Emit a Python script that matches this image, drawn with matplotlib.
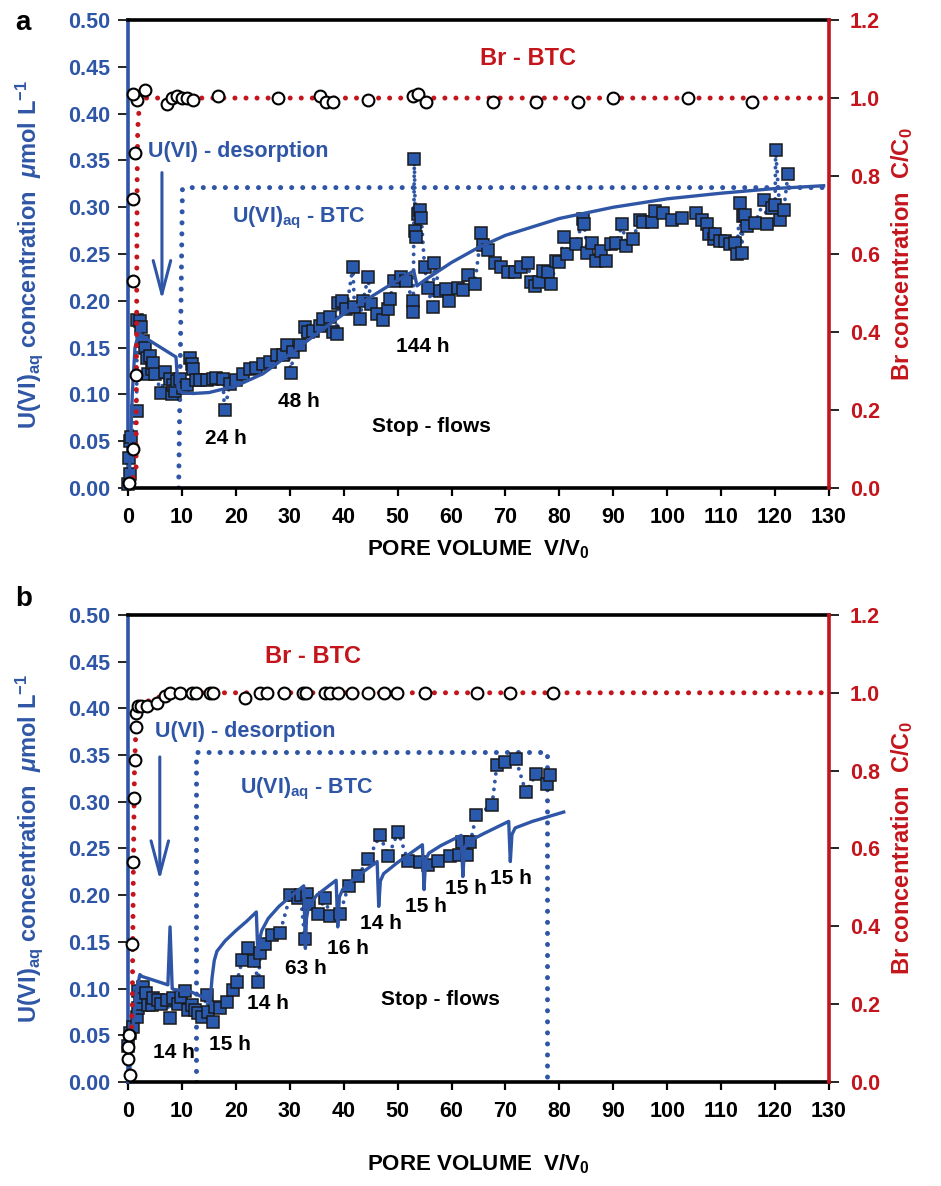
"""Recreate the U(VI) desorption / Br breakthrough figure (panels a and b)."""

import numpy as np
import matplotlib

matplotlib.use("Agg")
import matplotlib.pyplot as plt
from matplotlib.ticker import FormatStrFormatter

BLUE = "#2f56a6"
SQ_FACE = "#2a5aae"
RED = "#c4151c"

# ---------------------------------------------------------------- panel a data
a_u_x = [0.05, 0.1, 0.3, 0.4, 0.5, 1.6, 1.7, 2.2, 2.5, 2.8, 3.1, 3.5, 3.8, 4.1, 4.4,
         4.7, 5.0, 6.2, 6.8, 7.8, 8.1, 8.4, 8.7, 9.0, 9.6, 10.2, 10.9, 11.5, 11.8,
         12.1, 12.7, 13.3, 14.6, 15.8, 16.4, 17.6, 17.9, 18.9, 20.1, 21.4, 22.6,
         23.8, 25.1, 26.3, 27.6, 28.8, 29.4, 30.3, 30.6, 31.9, 32.8, 33.4, 34.3,
         35.6, 36.2, 37.4, 38.0, 38.7, 38.9, 39.6, 40.5, 41.7, 42.0, 43.0, 43.6,
         44.5, 45.1, 46.1, 47.3, 48.3, 48.6, 49.3, 50.7, 51.6, 52.8, 52.9, 53.1,
         53.3, 53.5, 53.8, 54.1, 54.4, 55.0, 55.6, 56.5, 56.8, 57.8, 59.0, 59.6,
         61.2, 62.1, 63.0, 64.3, 65.5, 65.8, 66.7, 68.0, 69.2, 70.4, 71.7, 72.9,
         74.2, 74.7, 75.4, 76.3, 76.9, 77.8, 78.5, 79.4, 80.0, 80.9, 81.5, 83.1,
         84.4, 84.6, 85.2, 86.1, 86.8, 87.7, 88.6, 89.6, 90.5, 91.7, 92.3, 93.6,
         94.9, 95.5, 97.1, 97.7, 99.2, 100.8, 102.7, 105.4, 106.4, 107.3, 107.7,
         108.6, 108.9, 109.8, 110.8, 111.7, 112.6, 112.9, 113.5, 113.8, 114.1,
         114.4, 114.8, 116.3, 118.0, 118.5, 119.4, 120.0, 120.1, 121.0, 121.6,
         122.4]
a_u_y = [0.004, 0.032, 0.015, 0.050, 0.054, 0.082, 0.179, 0.178, 0.172, 0.157,
         0.150, 0.139, 0.122, 0.141, 0.127, 0.134, 0.122, 0.102, 0.124, 0.116,
         0.100, 0.110, 0.104, 0.114, 0.116, 0.107, 0.110, 0.139, 0.133, 0.127,
         0.115, 0.115, 0.115, 0.117, 0.118, 0.117, 0.083, 0.111, 0.115, 0.122,
         0.127, 0.128, 0.132, 0.135, 0.142, 0.142, 0.153, 0.123, 0.145, 0.153,
         0.172, 0.167, 0.168, 0.173, 0.181, 0.183, 0.167, 0.165, 0.198, 0.200,
         0.191, 0.236, 0.193, 0.181, 0.200, 0.225, 0.197, 0.186, 0.179, 0.191,
         0.202, 0.221, 0.226, 0.221, 0.200, 0.188, 0.352, 0.275, 0.268, 0.293,
         0.297, 0.288, 0.236, 0.214, 0.193, 0.240, 0.211, 0.213, 0.200, 0.214,
         0.212, 0.228, 0.218, 0.272, 0.260, 0.254, 0.240, 0.236, 0.231, 0.231,
         0.236, 0.240, 0.220, 0.216, 0.220, 0.232, 0.231, 0.218, 0.243, 0.241,
         0.268, 0.250, 0.261, 0.287, 0.282, 0.251, 0.262, 0.243, 0.253, 0.243,
         0.261, 0.262, 0.282, 0.259, 0.266, 0.286, 0.284, 0.284, 0.296, 0.294,
         0.286, 0.288, 0.294, 0.286, 0.282, 0.271, 0.266, 0.271, 0.264, 0.264,
         0.261, 0.262, 0.250, 0.304, 0.251, 0.291, 0.292, 0.280, 0.283, 0.308,
         0.282, 0.299, 0.302, 0.361, 0.286, 0.297, 0.336]

a_model_x = [0.0, 0.3, 0.8, 1.3, 2.0, 2.5, 8.9, 9.3, 10.0, 12.0, 15.0, 20.0, 25.0,
             30.0, 35.0, 40.0, 45.0, 50.0, 53.0, 53.6, 55.0, 60.0, 65.0, 70.0,
             80.0, 90.0, 100.0, 110.0, 120.0, 129.0]
a_model_y = [0.0, 0.02, 0.10, 0.15, 0.166, 0.163, 0.140, 0.106, 0.102, 0.101,
             0.102, 0.109, 0.122, 0.143, 0.165, 0.186, 0.204, 0.222, 0.232, 0.216,
             0.222, 0.241, 0.257, 0.270, 0.288, 0.300, 0.309, 0.315, 0.320, 0.323]

a_box_x = [9.4, 10.1, 11.1, 130.0]
a_box_y = [0.0, 0.320, 0.321, 0.321]

a_br_x = [0.1, 0.9, 1.4, 1.0, 0.9, 1.3, 1.6, 3.1, 0.9, 7.2, 8.1, 9.0, 10.0, 10.9,
          12.1, 16.7, 27.8, 35.6, 36.8, 38.0, 44.5, 52.8, 53.8, 55.3, 67.7, 75.6,
          83.5, 89.9, 103.9, 115.7]
a_br_y = [0.012, 0.10, 0.29, 0.53, 0.74, 0.86, 0.995, 1.02, 1.01, 0.985, 1.0,
          1.005, 1.0, 1.0, 0.995, 1.005, 1.0, 1.005, 0.99, 0.99, 0.995, 1.005,
          1.01, 0.99, 0.99, 0.99, 0.99, 1.0, 1.0, 0.99]

a_br_model_x = [0.3, 1.5, 1.7, 1.8, 2.2, 130.0]
a_br_model_y = [0.0, 0.05, 0.79, 0.92, 1.0, 1.0]

a_stop_labels = ["24 h", "48 h", "144 h"]

# ---------------------------------------------------------------- panel b data
b_u_x = [0.0, 0.4, 1.0, 1.6, 1.9, 1.9, 2.2, 2.5, 2.8, 3.4, 3.8, 4.4, 4.7, 5.6,
         6.2, 7.2, 7.8, 8.4, 9.3, 9.9, 10.6, 11.2, 11.8, 12.4, 13.0, 13.7, 14.6,
         14.9, 15.8, 16.1, 17.1, 18.3, 19.5, 20.2, 21.2, 22.3, 23.3, 24.2, 24.5,
         25.4, 26.7, 28.2, 30.1, 31.6, 32.0, 32.8, 33.2, 33.5, 35.3, 36.5, 37.5,
         39.3, 40.9, 42.7, 44.6, 46.7, 48.3, 50.1, 51.9, 54.2, 55.7, 57.5, 59.7,
         61.3, 61.9, 62.8, 63.5, 64.6, 67.5, 68.4, 70.0, 71.9, 73.8, 75.7, 77.7,
         78.2]
b_u_y = [0.038, 0.052, 0.059, 0.070, 0.079, 0.097, 0.084, 0.091, 0.102, 0.095,
         0.082, 0.082, 0.090, 0.088, 0.084, 0.088, 0.068, 0.090, 0.084, 0.091,
         0.097, 0.077, 0.082, 0.077, 0.074, 0.070, 0.093, 0.075, 0.064, 0.080,
         0.079, 0.086, 0.098, 0.107, 0.131, 0.143, 0.130, 0.107, 0.138, 0.148,
         0.157, 0.160, 0.200, 0.197, 0.200, 0.153, 0.201, 0.191, 0.180, 0.197,
         0.178, 0.180, 0.210, 0.221, 0.239, 0.264, 0.242, 0.268, 0.237, 0.236,
         0.232, 0.237, 0.242, 0.243, 0.257, 0.243, 0.257, 0.286, 0.296, 0.339,
         0.343, 0.346, 0.310, 0.330, 0.319, 0.329]

b_model_x = [0.0, 0.3, 0.8, 1.5, 2.2, 2.6, 7.4, 7.8, 8.2, 8.5, 11.5, 14.6, 15.2,
             15.6, 16.0, 16.5, 18.0, 20.0, 22.0, 23.8, 24.1, 24.3, 24.8, 26.0,
             28.0, 30.0, 32.6, 32.9, 33.1, 33.5, 35.0, 38.6, 38.9, 39.2, 39.8,
             42.0, 46.2, 46.5, 46.8, 47.4, 50.0, 54.6, 54.9, 55.2, 55.8, 58.0,
             61.8, 62.1, 62.4, 63.0, 66.0, 70.6, 70.9, 71.2, 71.8, 75.0, 80.8]
b_model_y = [0.0, 0.01, 0.05, 0.095, 0.115, 0.113, 0.104, 0.166, 0.100, 0.099,
             0.097, 0.089, 0.084, 0.112, 0.130, 0.140, 0.151, 0.162, 0.172,
             0.182, 0.134, 0.150, 0.162, 0.175, 0.188, 0.198, 0.210, 0.143,
             0.175, 0.188, 0.200, 0.216, 0.166, 0.198, 0.206, 0.218, 0.236,
             0.188, 0.215, 0.223, 0.235, 0.254, 0.206, 0.238, 0.245, 0.253,
             0.264, 0.220, 0.250, 0.257, 0.266, 0.279, 0.236, 0.265, 0.272,
             0.279, 0.289]

b_box_x = [12.7, 12.7, 77.7, 77.7]
b_box_y = [0.0, 0.353, 0.353, 0.0]

b_br_x = [0.3, 0.0, 0.0, 0.25, 0.7, 0.9, 1.2, 1.3, 1.5, 1.5, 1.9, 2.4, 3.5, 5.3,
          6.9, 7.8, 9.6, 11.8, 12.7, 15.2, 15.8, 21.7, 24.5, 25.7, 29.0, 32.5,
          33.1, 36.5, 37.5, 39.0, 41.5, 44.6, 47.4, 49.8, 55.1, 64.8, 70.9, 78.8]
b_br_y = [0.019, 0.06, 0.091, 0.12, 0.355, 0.564, 0.73, 0.828, 0.912, 0.948,
          0.965, 0.965, 0.965, 0.974, 0.991, 1.0, 1.0, 1.0, 1.0, 1.0, 1.0, 0.986,
          1.0, 1.0, 1.0, 1.0, 1.0, 1.0, 1.0, 1.0, 1.0, 1.0, 1.0, 1.0, 1.0, 1.0,
          1.0, 1.0]

b_br_model_x = [0.0, 0.4, 0.8, 1.0, 1.2, 1.5, 2.0, 3.0, 5.0, 8.0, 130.0]
b_br_model_y = [0.0, 0.03, 0.2, 0.55, 0.8, 0.92, 0.96, 0.975, 0.985, 1.0, 1.0]

b_stop_labels = ["14 h", "15 h", "14 h", "63 h", "16 h", "14 h", "15 h", "15 h", "15 h"]

XTICKS = np.arange(0, 131, 10)
YTICKS_L = np.arange(0, 0.501, 0.05)
YTICKS_R = np.arange(0, 1.21, 0.2)


def setup_fonts():
    plt.rcParams["font.family"] = ["Liberation Sans", "DejaVu Sans"]
    plt.rcParams["font.weight"] = "bold"
    plt.rcParams["axes.labelweight"] = "bold"
    plt.rcParams["mathtext.fontset"] = "custom"
    plt.rcParams["mathtext.rm"] = "Liberation Sans:bold"
    plt.rcParams["mathtext.bf"] = "Liberation Sans:bold"
    plt.rcParams["mathtext.it"] = "Liberation Sans:italic:bold"
    plt.rcParams["mathtext.sf"] = "Liberation Sans:bold"


def style_axes(ax, ax2):
    """Spines, ticks and limits shared by both panels."""
    ax.set_xlim(0, 130)
    ax.set_ylim(0, 0.5)
    ax2.set_ylim(0, 1.2)
    ax.set_xticks(XTICKS)
    ax.set_yticks(YTICKS_L)
    ax2.set_yticks(YTICKS_R)
    ax.yaxis.set_major_formatter(FormatStrFormatter("%.2f"))
    ax2.yaxis.set_major_formatter(FormatStrFormatter("%.1f"))

    for name, sp in ax.spines.items():
        sp.set_linewidth(2.6)
        sp.set_color("black")
    ax.spines["left"].set_color(BLUE)
    ax.spines["right"].set_visible(False)
    for name in ("left", "top", "bottom"):
        ax2.spines[name].set_visible(False)
    ax2.spines["right"].set_color(RED)
    ax2.spines["right"].set_linewidth(2.6)

    ax.tick_params(axis="x", direction="out", length=6, width=1.6, color="black",
                   labelsize=15.5, pad=8, labelcolor="black")
    ax.tick_params(axis="y", direction="out", length=7, width=1.2, color="black",
                   labelsize=15.5, pad=6, labelcolor=BLUE)
    ax2.tick_params(axis="y", direction="out", length=7, width=1.2, color="black",
                    labelsize=15.5, pad=8, labelcolor=RED)


def draw_panel(ax, ax2, u_x, u_y, model_x, model_y, box_x, box_y,
               br_x, br_y, br_model_x, br_model_y):
    # U(VI) breakthrough box (step input) and data trace
    ax.plot(box_x, box_y, color=BLUE, lw=3.6, linestyle=(0, (0.01, 2.2)),
            dash_capstyle="round", zorder=2)
    order = np.argsort(u_x, kind="stable")
    ax.plot(np.asarray(u_x)[order], np.asarray(u_y)[order], color=BLUE, lw=2.8,
            linestyle=(0, (0.01, 2.0)), dash_capstyle="round", zorder=2)
    ax.plot(u_x, u_y, "s", ms=8, mfc=SQ_FACE, mec="#1a1a1a", mew=1.1,
            clip_on=False, zorder=3)
    ax.plot(model_x, model_y, color=BLUE, lw=2.4, zorder=4, clip_on=False)

    # bromide tracer
    ax2.plot(br_model_x, br_model_y, color=RED, lw=3.6, linestyle=(0, (0.01, 2.2)),
             dash_capstyle="round", zorder=2)
    ax2.plot(br_x, br_y, "o", ms=8.5, mfc="white", mec="black", mew=1.5,
             clip_on=False, zorder=5)


def add_arrow(ax, x, y_top, y_tip):
    ax.annotate("", xy=(x, y_tip), xytext=(x, y_top),
                arrowprops=dict(arrowstyle="->,head_length=1.6,head_width=0.42",
                                color=BLUE, lw=2.2, mutation_scale=15,
                                shrinkA=0, shrinkB=0))


def add_axis_labels(ax, ax2, xlabel_y):
    ax.set_xlabel(r"PORE VOLUME  V/V$_\mathrm{0}$", fontsize=16, fontweight="bold",
                  color="black")
    ax.xaxis.set_label_coords(0.5, xlabel_y)
    ax.set_ylabel(r"U(VI)$_\mathrm{aq}$ concentration  $\mu$mol L$^\mathrm{-1}$",
                  fontsize=17, fontweight="bold", color=BLUE)
    ax.yaxis.set_label_coords(-0.118, 0.5)
    ax2.set_ylabel(r"Br concentration  C/C$_\mathrm{0}$", fontsize=17,
                   fontweight="bold", color=RED)
    ax2.yaxis.set_label_coords(1.085, 0.5)


def main():
    setup_fonts()
    fig = plt.figure(figsize=(9.41, 11.86), dpi=100)

    # ---- panel a
    ax = fig.add_axes([0.136, 0.5885, 0.745, 0.3946])
    ax2 = ax.twinx()
    style_axes(ax, ax2)
    draw_panel(ax, ax2, a_u_x, a_u_y, a_model_x, a_model_y, a_box_x, a_box_y,
               a_br_x, a_br_y, a_br_model_x, a_br_model_y)
    add_arrow(ax, 6.3, 0.337, 0.201)
    ax.text(74.2, 0.459, "Br - BTC", color=RED, fontsize=17, ha="center", va="center")
    ax.text(3.7, 0.354, "U(VI) - desorption", color=BLUE, fontsize=15.5, va="baseline")
    ax.text(19.3, 0.284, r"U(VI)$_\mathrm{aq}$ - BTC", color=BLUE, fontsize=15.5,
            va="baseline")
    for label, x, y in zip(a_stop_labels, [18.2, 31.7, 54.6], [0.053, 0.092, 0.151]):
        ax.text(x, y, label, fontsize=15, ha="center", va="center", zorder=6)
    ax.text(56.2, 0.0655, "Stop - flows", fontsize=15, ha="center", va="center")
    add_axis_labels(ax, ax2, -0.105)
    fig.text(0.016, 0.981, "a", fontsize=20, ha="left", va="center")

    # ---- panel b
    bx = fig.add_axes([0.136, 0.0877, 0.745, 0.3938])
    bx2 = bx.twinx()
    style_axes(bx, bx2)
    draw_panel(bx, bx2, b_u_x, b_u_y, b_model_x, b_model_y, b_box_x, b_box_y,
               b_br_x, b_br_y, b_br_model_x, b_br_model_y)
    add_arrow(bx, 5.9, 0.348, 0.216)
    bx.text(34.4, 0.455, "Br - BTC", color=RED, fontsize=17, ha="center", va="center")
    bx.text(5.0, 0.369, "U(VI) - desorption", color=BLUE, fontsize=15.5, va="baseline")
    bx.text(20.8, 0.309, r"U(VI)$_\mathrm{aq}$ - BTC", color=BLUE, fontsize=15.5,
            va="baseline")
    b_lab_x = [8.6, 18.9, 26.0, 33.0, 40.7, 46.9, 55.2, 62.7, 71.0]
    b_lab_y = [0.032, 0.040, 0.084, 0.122, 0.143, 0.170, 0.188, 0.207, 0.218]
    for label, x, y in zip(b_stop_labels, b_lab_x, b_lab_y):
        bx.text(x, y, label, fontsize=15, ha="center", va="center", zorder=6)
    bx.text(58.0, 0.088, "Stop - flows", fontsize=15, ha="center", va="center")
    add_axis_labels(bx, bx2, -0.150)
    fig.text(0.016, 0.495, "b", fontsize=20, ha="left", va="center")

    fig.savefig("out.png", dpi=100)


if __name__ == "__main__":
    main()
